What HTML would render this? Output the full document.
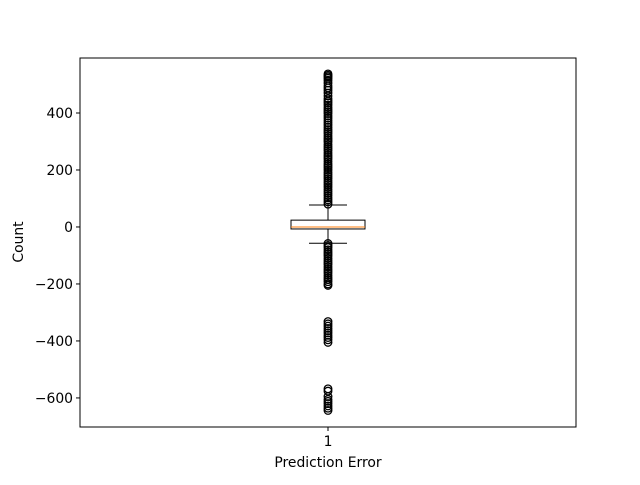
<!DOCTYPE html>
<html><head><meta charset="utf-8"><style>
body{margin:0;background:#fff}
svg{font-family:"DejaVu Sans","Liberation Sans",sans-serif}
</style></head><body>
<svg id="chart" width="640" height="480">
<rect width="640" height="480" fill="#fff"/>
<g id="plot"></g>
<rect x="80" y="58" width="496" height="369" fill="none" stroke="#000" stroke-width="1"/>
<text x="328" y="467" text-anchor="middle" font-size="13.9">Prediction Error</text>
<text transform="translate(23,242) rotate(-90)" text-anchor="middle" font-size="13.9">Count</text>
</svg>
<script>
const yTicks=[-600,-400,-200,0,200,400];
const categories=["1"];
const whiskerLow=[-57];
const q1=[-7];
const median=[0];
const q3=[24];
const whiskerHigh=[77];
const outliers=[537,532,527,522,515,505,495,488,480,470,460,450,442,436,428,420,412,405,398,390,382,374,366,358,350,342,335,328,320,312,305,298,290,282,275,268,260,252,245,238,230,222,215,208,200,192,185,178,170,162,155,148,140,132,125,118,110,102,95,88,80,
-58,-65,-72,-80,-88,-95,-102,-110,-118,-125,-132,-140,-148,-155,-162,-170,-178,-185,-192,-200,-205,
-332,-340,-348,-356,-364,-372,-380,-388,-396,-405,
-568,-576,-595,-605,-612,-620,-628,-636,-644];
const Y0=-702,Y1=593,plotTop=58,plotBot=427;
const y=v=>plotBot-(v-Y0)/(Y1-Y0)*(plotBot-plotTop);
const x=i=>328+i*0;
const g=document.getElementById('plot');
const NS='http://www.w3.org/2000/svg';
function mk(t,a){const e=document.createElementNS(NS,t);for(const k in a)e.setAttribute(k,a[k]);g.appendChild(e);return e;}
yTicks.forEach(t=>{
 const l=mk('line',{x1:76,x2:80,y1:y(t),y2:y(t),stroke:'#000'});
 
 
 const tx=mk('text',{x:73,y:y(t)+5,'text-anchor':'end','font-size':13.9});
 tx.textContent=t<0?'\u2212'+(-t):t;
 
 
});
categories.forEach((c,i)=>{
 const cx=x(i);
 const tk=mk('line',{x1:cx,x2:cx,y1:427,y2:431,stroke:'#000'});
 
 
 const tl=mk('text',{x:cx,y:446,'text-anchor':'middle','font-size':13.9});
 tl.textContent=c;
 
 
 const w1=mk('line',{x1:cx,x2:cx,y1:y(q3[i]),y2:y(whiskerHigh[i]),stroke:'#000'});
 
 
 const w2=mk('line',{x1:cx,x2:cx,y1:y(q1[i]),y2:y(whiskerLow[i]),stroke:'#000'});
 
 
 const c1=mk('line',{x1:cx-19,x2:cx+19,y1:y(whiskerHigh[i]),y2:y(whiskerHigh[i]),stroke:'#000'});
 
 
 const c2=mk('line',{x1:cx-19,x2:cx+19,y1:y(whiskerLow[i]),y2:y(whiskerLow[i]),stroke:'#000'});
 
 
 outliers.forEach(v=>{
  const o=mk('circle',{cx:cx,cy:y(v),r:3.8,fill:'none',stroke:'#000','stroke-width':1.3});
  
  
 });
 const b=mk('rect',{x:cx-37,y:y(q3[i]),width:74,height:y(q1[i])-y(q3[i]),fill:'#fff',stroke:'#000'});
 
 
 const m=mk('line',{x1:cx-37,x2:cx+37,y1:y(median[i]),y2:y(median[i]),stroke:'#ff7f0e'});
 
 
});
</script>
</body></html>
